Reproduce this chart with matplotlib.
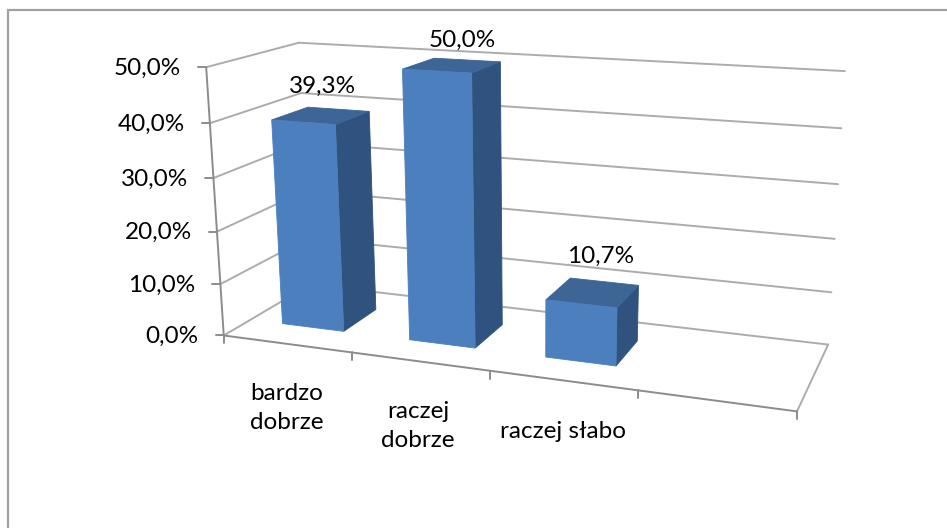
import numpy as np
import matplotlib
matplotlib.use('Agg')
import matplotlib.pyplot as plt
from matplotlib.patches import Polygon

categories = ['bardzo\ndobrze', 'raczej\ndobrze', 'raczej słabo']
values = [39.3, 50.0, 10.7]
value_labels = ['39,3%', '50,0%', '10,7%']
y_ticks = [0, 10, 20, 30, 40, 50]
y_tick_labels = ['0,0%', '10,0%', '20,0%', '30,0%', '40,0%', '50,0%']
n_slots = 4
y_max = 50.0

# pixel places of the box corners, (slot, value, depth) -> pixel
box_3d = [(0,0,0),(0,1,0),(0,0,1),(0,1,1),(1,0,1),(1,1,1),(1,0,0)]
box_px = [(223,336),(207,67),(311,284),(298,43),(828,345),(845,71),(797,411)]

rows = []
for (a,b,c),(x,y) in zip(box_3d,box_px):
    rows.append([a,b,c,1,0,0,0,0,-x*a,-x*b,-x*c,-x])
    rows.append([0,0,0,0,a,b,c,1,-y*a,-y*b,-y*c,-y])
P = np.linalg.svd(np.array(rows,dtype=float))[2][-1].reshape(3,4)

def proj(slot,val,depth):
    # slot in category units, val in chart units, depth 0..1
    p = P @ np.array([slot/n_slots,val/y_max,depth,1.0])
    return p[0]/p[2],p[1]/p[2]

plt.rcParams['font.family'] = ['Lato','DejaVu Sans']
fs = 17.5

fig = plt.figure(figsize=(9.47,5.28),dpi=100)
ax = fig.add_axes([0,0,1,1])
ax.set_xlim(0,947)
ax.set_ylim(528,0)
ax.axis('off')

# only the top and left of the frame are in the picture
ax.plot([8,8,947],[528,10,10],color='#a0a0a0',lw=1.6,solid_joinstyle='miter')

grid_c = '#acacac'
axis_c = '#8c8c8c'

def line(a,b,c=grid_c,lw=1.4):
    ax.plot([a[0],b[0]],[a[1],b[1]],color=c,lw=lw,solid_capstyle='round')

# walls
for v in y_ticks:
    line(proj(0,v,0),proj(0,v,1))
    line(proj(0,v,1),proj(n_slots,v,1))
line(proj(n_slots,0,1),proj(n_slots,0,0))
line(proj(0,0,0),proj(n_slots,0,0),axis_c)
line(proj(0,0,0),proj(0,y_max,0),axis_c)

# ticks
for v,lab in zip(y_ticks,y_tick_labels):
    x,y = proj(0,v,0)
    line((x-8,y),(x,y),axis_c)
    ax.text(x-25,y+1,lab,ha='right',va='center',fontsize=fs,color='black')
for i in range(n_slots+1):
    x,y = proj(i,0,0)
    line((x,y),(x,y+8),axis_c)

# bars
u0,u1 = 0.26,0.75
d0,d1 = 0.29,0.70
for i,v in enumerate(values):
    fl0 = proj(i+u0,0,d0); fr0 = proj(i+u1,0,d0)
    fl1 = proj(i+u0,v,d0); fr1 = proj(i+u1,v,d0)
    br0 = proj(i+u1,0,d1); br1 = proj(i+u1,v,d1)
    bl1 = proj(i+u0,v,d1)
    ax.add_patch(Polygon([fr0,fr1,br1,br0],fc='#30527e',ec='#30527e',lw=0.6,zorder=3))
    ax.add_patch(Polygon([fl1,fr1,br1,bl1],fc='#3d6596',ec='#3d6596',lw=0.6,zorder=3))
    ax.add_patch(Polygon([fl0,fl1,fr1,fr0],fc='#4c7fbe',ec='#4c7fbe',lw=0.6,zorder=4))

# labels
label_px = [(322,86),(462,40),(601,256)]
for (x,y),s in zip(label_px,value_labels):
    ax.text(x,y,s,ha='center',va='center',fontsize=fs,color='black',zorder=5)
cat_px = [(287,408),(418,426),(563,432)]
for (x,y),s in zip(cat_px,categories):
    ax.text(x,y,s,ha='center',va='center',fontsize=fs,color='black',linespacing=1.42)

fig.savefig('out.png',dpi=100)
